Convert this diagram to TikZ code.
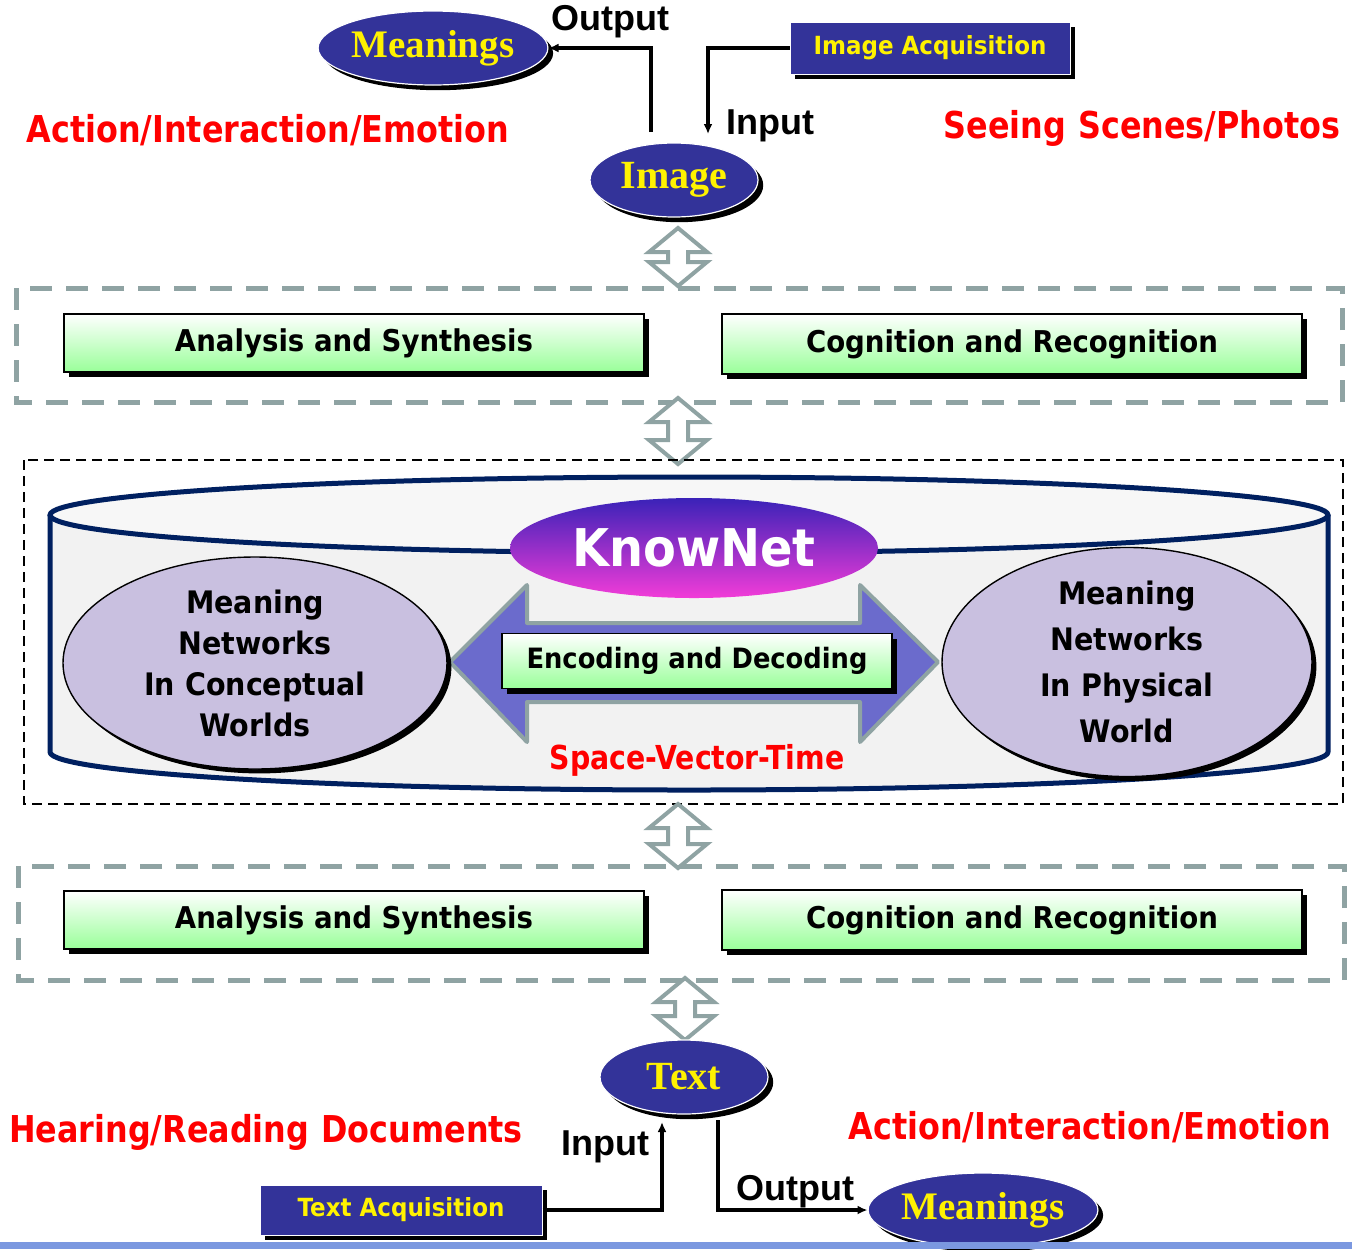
\documentclass[tikz,border=0pt]{standalone}
\usepackage{fontspec}
\setmainfont{Liberation Serif}
\newfontfamily\vfont{DejaVu Sans}[FakeStretch=0.92]
\newfontfamily\afont{Liberation Sans}
\newfontfamily\cfont{DejaVu Sans}[FakeStretch=0.86]
\newfontfamily\sfont{Liberation Serif}
\usetikzlibrary{shapes.geometric,shadows,arrows.meta}
\definecolor{navy}{HTML}{333399}
\definecolor{boxgreen}{HTML}{99FF99}
\definecolor{dashgray}{HTML}{8FA3A3}
\definecolor{cylblue}{HTML}{002060}
\definecolor{cylfill}{HTML}{F2F2F2}
\definecolor{cyltop}{HTML}{F7F7F7}
\definecolor{lilac}{HTML}{C9C0E0}
\definecolor{arrowblue}{HTML}{6B6BCC}
\definecolor{knowtop}{HTML}{3A22B8}
\definecolor{knowbot}{HTML}{F23CD8}
\definecolor{barblue}{HTML}{7B98E0}
\newcommand\vdarr[3]{%
 \draw[dblarr] (#1,#2) -- ({#1+29},{#2+24}) -- ({#1+10},{#2+24}) -- ({#1+10},{#3-24}) -- ({#1+29},{#3-24}) -- (#1,#3) -- ({#1-29},{#3-24}) -- ({#1-10},{#3-24}) -- ({#1-10},{#2+24}) -- ({#1-29},{#2+24}) -- cycle;}
\tikzset{
 blkshadow/.style={drop shadow={shadow xshift=2.6pt,shadow yshift=-2.6pt,fill=black,opacity=1}},
 darkell/.style={ellipse, fill=navy, draw=white, line width=0.6pt, inner sep=0pt, text=yellow,
   font=\sfont\bfseries\fontsize{20}{24}\selectfont, blkshadow},
 acqbox/.style={rectangle, fill=navy, draw=white, line width=0.5pt, inner sep=0pt, text=yellow,
   font=\vfont\bfseries\fontsize{12.5}{15}\selectfont, blkshadow},
 greenbox/.style={rectangle, draw=black, line width=0.6pt, top color=white, bottom color=boxgreen,
   inner sep=0pt, font=\vfont\bfseries\fontsize{15}{18}\selectfont, blkshadow},
 lilacell/.style={ellipse, fill=lilac, draw=black, line width=0.7pt, inner sep=0pt, align=center,
   drop shadow={shadow xshift=2.2pt,shadow yshift=-2.2pt,fill=black,opacity=1}},
 redlab/.style={text=red, font=\cfont\bfseries\fontsize{18.5}{22}\selectfont, inner sep=0pt},
 inout/.style={font=\afont\bfseries\fontsize{18}{22}\selectfont, inner sep=0pt},
 conn/.style={line width=1.6pt, -{Latex[length=5pt,width=4.5pt]}},
 grayframe/.style={draw=dashgray, line width=2.5pt, dash pattern=on 11pt off 7pt},
 blackframe/.style={draw=black, line width=1pt, dash pattern=on 5pt off 3pt},
 dblarr/.style={draw=dashgray, fill=white, line width=2pt, line join=miter},
}
\begin{document}
\begin{tikzpicture}[x=0.5pt,y=-0.5pt]
\useasboundingbox (0,0) rectangle (1352,1249);
\fill[white] (0,0) rectangle (1352,1249);

% ---------- top part ----------
\node[darkell, minimum width=113pt, minimum height=37pt, font=\sfont\bfseries\fontsize{19.5}{24}\selectfont] (mean1) at (433,48) {Meanings};
\node[darkell, minimum width=84pt, minimum height=37pt] (img) at (674,180) {Image};
\node[acqbox, minimum width=140pt, minimum height=26pt] (acq1) at (930,48) {Image Acquisition};
\node[inout] (outl1) at (610,22) {Output};
\node[inout] (inl1) at (770,126) {Input};
\node[redlab] (act1) at (268,130) {Action/Interaction/Emotion};
\node[redlab] (see) at (1142,128) {Seeing\,\,Scenes/Photos};
\coordinate (o1) at (651,132);
\coordinate (i1) at (708,134);
\draw[conn] (o1) |- (mean1.east);
\draw[conn] (acq1.west) -| (i1);

% ---------- upper dashed frame ----------
\draw[grayframe] (16,288) rectangle (1342,402);
\node[greenbox, minimum width=290pt, minimum height=29pt] (ana1) at (354,343) {Analysis and Synthesis};
\node[greenbox, minimum width=290pt, minimum height=30pt] (cog1) at (1012,344) {Cognition and Recognition};
\vdarr{678}{228}{286}
\vdarr{678}{398}{464}

% ---------- KnowNet ----------
\draw[blackframe] (24,460) rectangle (1343,804);
\path[fill=cylfill, draw=cylblue, line width=2.5pt, line join=round]
  (50,515) -- (50,752) arc[start angle=180, end angle=360, x radius=319.5pt, y radius=19pt] -- (1328,515);
\draw[fill=cyltop, draw=cylblue, line width=2.5pt] (689,515) ellipse [x radius=319.5pt, y radius=19pt];
\node[ellipse, minimum width=184pt, minimum height=50pt, top color=knowtop, bottom color=knowbot,
  inner sep=0pt, text=white, font=\vfont\bfseries\fontsize{26}{30}\selectfont] (know) at (694,548) {KnowNet};
\path[fill=arrowblue, draw=dashgray, line width=2pt, line join=round]
  (450,662) -- (527,585) -- (527,623) -- (860,623) -- (860,585) -- (938,662)
  -- (860,742) -- (860,702) -- (527,702) -- (527,742) -- cycle;
\node[greenbox, minimum width=195pt, minimum height=27.5pt, font=\vfont\bfseries\fontsize{14}{17}\selectfont] (enc) at (697,661) {Encoding and Decoding};
\node[lilacell, minimum width=192pt, minimum height=106pt,
  font=\vfont\bfseries\fontsize{15.5}{20.5}\selectfont] (mnc) at (255,663) {Meaning\\Networks\\In Conceptual\\Worlds};
\node[lilacell, minimum width=185pt, minimum height=107pt,
  font=\vfont\bfseries\fontsize{15.5}{23}\selectfont] (mnp) at (1127,662) {Meaning\\Networks\\In Physical\\World};
\node[redlab, font=\cfont\bfseries\fontsize{16.5}{20}\selectfont] (svt) at (697,760) {Space-Vector-Time};

% ---------- lower dashed frame ----------
\draw[grayframe] (18,866) rectangle (1344,980);
\node[greenbox, minimum width=290pt, minimum height=29pt] (ana2) at (354,920) {Analysis and Synthesis};
\node[greenbox, minimum width=290pt, minimum height=30pt] (cog2) at (1012,920) {Cognition and Recognition};
\vdarr{678}{804}{868}
\vdarr{685}{978}{1040}

% ---------- bottom part ----------
\node[darkell, minimum width=84pt, minimum height=37pt] (txt) at (684,1077) {Text};
\node[darkell, minimum width=111pt, minimum height=37pt, font=\sfont\bfseries\fontsize{19.5}{24}\selectfont] (mean2) at (983,1210) {Meanings};
\node[acqbox, minimum width=141pt, minimum height=25pt] (acq2) at (401,1210) {Text Acquisition};
\node[inout] (inl2) at (605,1147) {Input};
\node[inout] (outl2) at (795,1192) {Output};
\node[redlab] (hear) at (266,1132) {Hearing/Reading\,\,Documents};
\node[redlab] (act2) at (1090,1127) {Action/Interaction/Emotion};
\coordinate (i2) at (662,1122);
\coordinate (o2) at (718,1120);
\draw[conn] (acq2.east) -| (i2);
\draw[conn] (o2) |- (mean2.west);
\fill[barblue] (0,1242) rectangle (1352,1249);
\end{tikzpicture}
\end{document}
